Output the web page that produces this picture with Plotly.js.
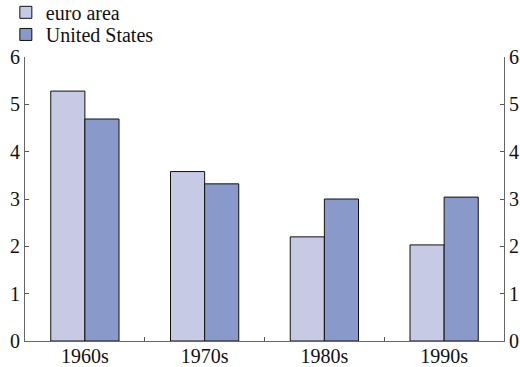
<!DOCTYPE html>
<html><head><meta charset="utf-8">
<script src="https://cdn.plot.ly/plotly-3.0.1.min.js"></script>
<style>html,body{margin:0;padding:0;background:#fff}#c{width:520px;height:367px}</style>
</head><body><div id="c"></div>
<script>
const categories = ['1960s', '1970s', '1980s', '1990s'];
const euroArea = [5.28, 3.58, 2.2, 2.03];
const unitedStates = [4.69, 3.32, 3.0, 3.04];
const yTicks = [0, 1, 2, 3, 4, 5, 6];

const font = {family: 'Times New Roman', size: 20, color: '#111'};
const traces = [
  {type: 'bar', name: 'euro area', x: categories, y: euroArea, legend: 'legend',
   marker: {color: '#c6cae5', line: {color: '#111', width: 1}}},
  {type: 'bar', name: 'United States', x: categories, y: unitedStates, legend: 'legend2',
   marker: {color: '#8899ca', line: {color: '#111', width: 1}}},
  {type: 'bar', x: categories, y: [null, null, null, null], yaxis: 'y2', showlegend: false, hoverinfo: 'skip'}
];
const yax = {range: [0, 6], tickvals: yTicks, ticks: 'inside', ticklen: 4, tickcolor: '#555',
  showline: true, linecolor: '#666', linewidth: 1, showgrid: false, zeroline: false, fixedrange: true,
  tickfont: font};
const leg = {x: -0.04, xanchor: 'left', yanchor: 'top', font: font, itemwidth: 30,
  tracegroupgap: 0, bgcolor: 'rgba(0,0,0,0)'};
const layout = {
  width: 520, height: 367, font: font,
  margin: {l: 25, r: 16, t: 57, b: 26, autoexpand: false},
  paper_bgcolor: '#fff', plot_bgcolor: '#fff',
  barmode: 'group', bargap: 0.43, bargroupgap: 0,
  showlegend: true,
  legend: Object.assign({}, leg, {y: 1.226}),
  legend2: Object.assign({}, leg, {y: 1.148}),
  xaxis: {type: 'category', tickson: 'boundaries', ticks: 'inside', ticklen: 4, tickcolor: '#555',
    showline: true, linecolor: '#666', showgrid: false, zeroline: false, ticklabelstandoff: -3, tickfont: font},
  yaxis: Object.assign({}, yax, {side: 'left', ticklabelstandoff: 0}),
  yaxis2: Object.assign({}, yax, {side: 'right', overlaying: 'y'})
};
Plotly.newPlot('c', traces, layout, {displayModeBar: false, staticPlot: true});
</script></body></html>
